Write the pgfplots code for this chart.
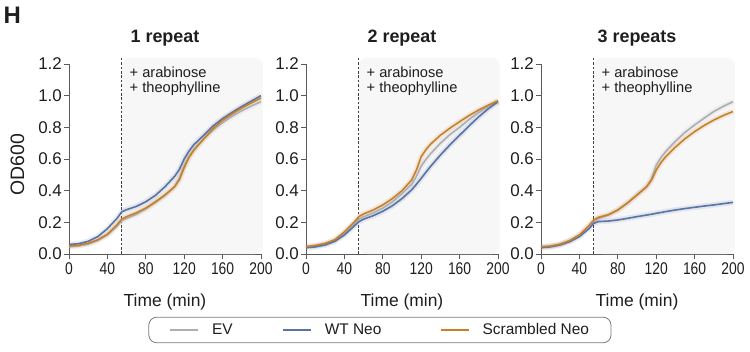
\documentclass[border=0pt]{standalone}
\usepackage{pgfplots}
\pgfplotsset{compat=1.18}
\usepackage{pgfplotstable}
\usepackage{fontspec}
\setmainfont{Liberation Sans}
\definecolor{evgray}{HTML}{ADADB2}
\definecolor{wtblue}{HTML}{5A73A5}
\definecolor{scrorange}{HTML}{C88028}
\definecolor{axgray}{HTML}{5A5A5A}
\definecolor{bgshade}{HTML}{F7F7F7}
\definecolor{txt}{HTML}{1E1E1E}

\pgfplotstableread{
x ev wt scr
0 0.045 0.060 0.050
10 0.050 0.065 0.055
20 0.062 0.080 0.068
30 0.085 0.110 0.090
40 0.120 0.160 0.125
50 0.175 0.225 0.185
55 0.210 0.267 0.221
60 0.225 0.280 0.236
70 0.250 0.300 0.260
80 0.285 0.330 0.290
90 0.325 0.370 0.330
100 0.370 0.425 0.373
110 0.425 0.490 0.425
115 0.480 0.535 0.470
120 0.560 0.600 0.545
125 0.615 0.650 0.610
130 0.660 0.690 0.655
140 0.725 0.748 0.725
150 0.782 0.808 0.792
160 0.830 0.855 0.845
170 0.870 0.895 0.885
180 0.905 0.932 0.922
190 0.935 0.966 0.955
200 0.962 1.000 0.985
}\tabA
\pgfplotstableread{
x ev wt scr
0 0.045 0.040 0.046
10 0.050 0.045 0.055
20 0.062 0.057 0.067
30 0.085 0.080 0.090
40 0.130 0.120 0.140
50 0.190 0.175 0.200
55 0.220 0.204 0.236
60 0.235 0.220 0.253
70 0.260 0.242 0.278
80 0.290 0.270 0.310
90 0.330 0.305 0.350
100 0.383 0.350 0.400
110 0.440 0.405 0.467
115 0.490 0.440 0.530
120 0.555 0.478 0.615
125 0.598 0.517 0.660
130 0.635 0.555 0.695
140 0.700 0.625 0.750
150 0.755 0.690 0.795
160 0.800 0.750 0.836
170 0.850 0.810 0.875
180 0.895 0.867 0.910
190 0.932 0.918 0.940
200 0.962 0.962 0.968
}\tabB
\pgfplotstableread{
x ev wt scr
0 0.045 0.040 0.045
10 0.050 0.045 0.050
20 0.062 0.057 0.062
30 0.085 0.078 0.085
40 0.120 0.110 0.120
50 0.175 0.160 0.180
55 0.205 0.194 0.215
60 0.225 0.205 0.232
70 0.245 0.208 0.248
80 0.278 0.215 0.278
90 0.322 0.225 0.322
100 0.373 0.236 0.373
110 0.425 0.246 0.425
115 0.475 0.251 0.465
120 0.560 0.257 0.530
125 0.610 0.262 0.578
130 0.648 0.268 0.615
140 0.712 0.278 0.675
150 0.768 0.287 0.728
160 0.815 0.295 0.773
170 0.858 0.303 0.812
180 0.900 0.310 0.846
190 0.933 0.318 0.875
200 0.962 0.326 0.900
}\tabC

\pgfplotsset{
  panel/.style={
    scale only axis, width=192bp, height=190bp,
    anchor=south west,
    xmin=0, xmax=200, ymin=0, ymax=1.2,
    xtick={0,40,80,120,160,200},
    ytick={0,0.2,0.4,0.6,0.8,1.0,1.2},
    axis x line*=bottom, axis y line*=left,
    axis line style={draw=axgray, line width=0.8bp, -},
    tick style={draw=axgray, line width=0.8bp},
    tick align=outside, major tick length=5bp,
    /pgf/number format/assume math mode=true,
    yticklabel style={/pgf/number format/.cd, fixed, fixed zerofill, precision=1, /tikz/.cd,
      font=\fontsize{17}{17}\selectfont, text=txt, inner xsep=2bp},
    xticklabel style={font=\fontsize{17}{17}\selectfont, text=txt, xscale=0.82},
    xlabel={Time (min)},
    xlabel style={at={(axis description cs:0.5,0)}, anchor=base, yshift=-52bp,
      font=\fontsize{17.5}{17.5}\selectfont, text=txt},
    title style={at={(axis description cs:0.5,1)}, anchor=base, yshift=16bp,
      font=\fontsize{18}{18}\selectfont\bfseries, text=txt},
    clip=false,
    bandstyle/.style={line width=5.5bp, opacity=0.13, line join=round},
    curvestyle/.style={line width=1.6bp, line join=round},
  }
}

\newcommand{\panelcontent}[1]{%
  \fill[bgshade, rounded corners=8bp] (axis cs:55,0) rectangle (axis cs:202,1.238);
  \draw[txt!85, line width=0.8bp, dash pattern=on 2.6bp off 1.8bp] (axis cs:55,0) -- (axis cs:55,1.24);
  \node[anchor=base west, inner sep=0pt, font=\fontsize{14.7}{15}\selectfont, text=txt] at (axis cs:63,1.1135) {+ arabinose};
  \node[anchor=base west, inner sep=0pt, font=\fontsize{14.7}{15}\selectfont, text=txt] at (axis cs:63,1.0195) {+ theophylline};
  \addplot[evgray, bandstyle, forget plot] table[x=x, y=ev] {#1};
  \addplot[wtblue, bandstyle, forget plot] table[x=x, y=wt] {#1};
  \addplot[scrorange, bandstyle, forget plot] table[x=x, y=scr] {#1};
  \addplot[evgray, curvestyle] table[x=x, y=ev] {#1};
  \addplot[wtblue, curvestyle] table[x=x, y=wt] {#1};
  \addplot[scrorange, curvestyle] table[x=x, y=scr] {#1};
}

\begin{document}
\begin{tikzpicture}[x=1bp,y=1bp]
\path (0,0) rectangle (750,351);
\coordinate (p1) at (69,97);
\coordinate (p2) at (306,97);
\coordinate (p3) at (541,97);
\node[anchor=base west, inner sep=0pt, font=\fontsize{24}{24}\selectfont\bfseries, text=txt] at (3.5,327.7) {H};

\begin{axis}[panel, at={(p1)}, title={1 repeat},
  ylabel={OD600},
  ylabel style={at={(axis description cs:0,0.5)}, anchor=center, yshift=51.5bp, xshift=-5.5bp,
    font=\fontsize{19.5}{19.5}\selectfont, text=txt}]
\panelcontent{\tabA}
\end{axis}

\begin{axis}[panel, at={(p2)}, title={2 repeat},
  legend columns=3, legend cell align=left,
  legend image code/.code={\draw[#1, line width=2.2bp] (0bp,0bp) -- (28bp,0bp);},
  legend style={at={(axis description cs:0.385,-0.4)}, anchor=center,
    draw=axgray!80, line width=0.8bp, rounded corners=8bp,
    font=\fontsize{15.5}{15.5}\selectfont, text=txt,
    inner xsep=20bp, inner ysep=4.5bp,
    /tikz/every odd column/.append style={column sep=11bp}},
  ]
\panelcontent{\tabB}
\addlegendentry{EV\hspace*{47bp}}
\addlegendentry{WT Neo\hspace*{56bp}}
\addlegendentry{Scrambled Neo}
\end{axis}

\begin{axis}[panel, at={(p3)}, title={3 repeats}]
\panelcontent{\tabC}
\end{axis}
\end{tikzpicture}
\end{document}
